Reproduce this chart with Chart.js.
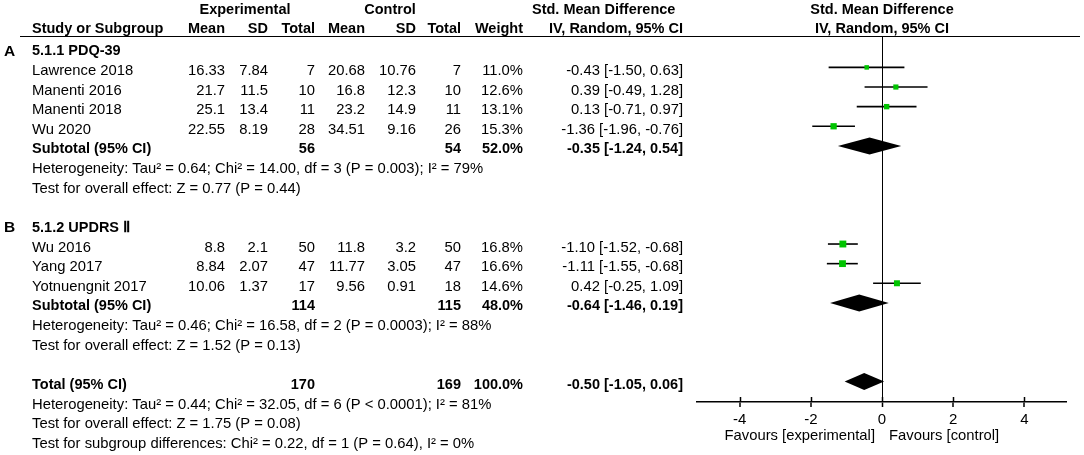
<!DOCTYPE html>
<html>
<head>
<meta charset="utf-8">
<title>Forest plot</title>
<script src="https://cdn.jsdelivr.net/npm/chart.js@4.4.1/dist/chart.umd.min.js"></script>
<style>
  html, body { margin: 0; padding: 0; background: #fff; }
  canvas { display: block; }
</style>
</head>
<body>
<canvas id="forest" width="1084" height="455"></canvas>
<script>
// ===== data =====
const studies = ["Lawrence 2018", "Manenti 2016", "Manenti 2018", "Wu 2020", "Wu 2016", "Yang 2017", "Yotnuengnit 2017"];
const studyRows = [1, 2, 3, 4, 10, 11, 12];
const expMean = [16.33, 21.7, 25.1, 22.55, 8.8, 8.84, 10.06];
const expSD = [7.84, 11.5, 13.4, 8.19, 2.1, 2.07, 1.37];
const expN = [7, 10, 11, 28, 50, 47, 17];
const ctrlMean = [20.68, 16.8, 23.2, 34.51, 11.8, 11.77, 9.56];
const ctrlSD = [10.76, 12.3, 14.9, 9.16, 3.2, 3.05, 0.91];
const ctrlN = [7, 10, 11, 26, 50, 47, 18];
const weights = [11.0, 12.6, 13.1, 15.3, 16.8, 16.6, 14.6];
const smd = [-0.43, 0.39, 0.13, -1.36, -1.10, -1.11, 0.42];
const ciLow = [-1.50, -0.49, -0.71, -1.96, -1.52, -1.55, -0.25];
const ciHigh = [0.63, 1.28, 0.97, -0.76, -0.68, -0.68, 1.09];

const groupLetters = ["A", "B"];
const groupTitles = ["5.1.1 PDQ-39", "5.1.2 UPDRS Ⅱ"];
const groupRows = [0, 9];

const sumLabels = ["Subtotal (95% CI)", "Subtotal (95% CI)", "Total (95% CI)"];
const sumRows = [5, 13, 17];
const sumExpN = [56, 114, 170];
const sumCtrlN = [54, 115, 169];
const sumWeights = [52.0, 48.0, 100.0];
const sumEst = [-0.35, -0.64, -0.50];
const sumLow = [-1.24, -1.46, -1.05];
const sumHigh = [0.54, 0.19, 0.06];

const noteRows = [6, 7, 14, 15, 18, 19, 20];
const noteTexts = [
    "Heterogeneity: Tau² = 0.64; Chi² = 14.00, df = 3 (P = 0.003); I² = 79%",
    "Test for overall effect: Z = 0.77 (P = 0.44)",
    "Heterogeneity: Tau² = 0.46; Chi² = 16.58, df = 2 (P = 0.0003); I² = 88%",
    "Test for overall effect: Z = 1.52 (P = 0.13)",
    "Heterogeneity: Tau² = 0.44; Chi² = 32.05, df = 6 (P < 0.0001); I² = 81%",
    "Test for overall effect: Z = 1.75 (P = 0.08)",
    "Test for subgroup differences: Chi² = 0.22, df = 1 (P = 0.64), I² = 0%"
];

const xTicks = [-4, -2, 0, 2, 4];
const favourLabels = ["Favours [experimental]", "Favours [control]"];

// ===== look =====
const FAMILY = '"Liberation Sans", Arial, sans-serif';
const NORMAL = "14.8px " + FAMILY;
const BOLD = "bold 14.5px " + FAMILY;
const GREEN = "#00c400";
const TEXT_DY = 3.5;   // text sits a little lower than the marks

const ci = (e, l, h) => `${e.toFixed(2)} [${l.toFixed(2)}, ${h.toFixed(2)}]`;

// column anchors (right aligned unless noted)
const col = { study: 32, letter: 4, expMean: 225, expSD: 268, expN: 315,
              ctrlMean: 365, ctrlSD: 416, ctrlN: 461, weight: 523, ci: 683 };

function txt(c, s, x, y, font, align) {
    c.font = font;
    c.textAlign = align || "right";
    c.fillText(s, x, y);
}

const tablePlugin = {
    id: "forestTable",
    afterDatasetsDraw(chart) {
        const c = chart.ctx;
        const ys = chart.scales.y;
        const xs = chart.scales.x;
        const area = chart.chartArea;
        const rowY = r => ys.getPixelForValue(r);
        const x0 = xs.getPixelForValue(0);

        // summary diamonds
        c.save();
        c.fillStyle = "#000";
        sumRows.forEach((r, i) => {
            const y = rowY(r), h = 8.5;
            c.beginPath();
            c.moveTo(xs.getPixelForValue(sumLow[i]), y);
            c.lineTo(xs.getPixelForValue(sumEst[i]), y - h);
            c.lineTo(xs.getPixelForValue(sumHigh[i]), y);
            c.lineTo(xs.getPixelForValue(sumEst[i]), y + h);
            c.closePath();
            c.fill();
        });
        c.restore();

        c.save();
        c.fillStyle = "#000";
        c.textBaseline = "middle";

        // header
        const h1 = rowY(-2.1) + TEXT_DY, h2 = rowY(-1.14) + TEXT_DY;
        txt(c, "Experimental", 245, h1, BOLD, "center");
        txt(c, "Control", 390, h1, BOLD, "center");
        txt(c, "Std. Mean Difference", 532, h1, BOLD, "left");
        txt(c, "Std. Mean Difference", x0, h1, BOLD, "center");
        txt(c, "Study or Subgroup", col.study, h2, BOLD, "left");
        txt(c, "Mean", col.expMean, h2, BOLD);
        txt(c, "SD", col.expSD, h2, BOLD);
        txt(c, "Total", col.expN, h2, BOLD);
        txt(c, "Mean", col.ctrlMean, h2, BOLD);
        txt(c, "SD", col.ctrlSD, h2, BOLD);
        txt(c, "Total", col.ctrlN, h2, BOLD);
        txt(c, "Weight", col.weight, h2, BOLD);
        txt(c, "IV, Random, 95% CI", col.ci, h2, BOLD);
        txt(c, "IV, Random, 95% CI", x0, h2, BOLD, "center");

        // header rule
        c.strokeStyle = "#000";
        c.lineWidth = 1;
        c.beginPath();
        c.moveTo(20, area.top + 0.5);
        c.lineTo(1080, area.top + 0.5);
        c.stroke();

        // subgroup titles
        groupRows.forEach((r, i) => {
            const y = rowY(r) + TEXT_DY;
            txt(c, groupLetters[i], col.letter, y, "bold 15.5px " + FAMILY, "left");
            txt(c, groupTitles[i], col.study, y, BOLD, "left");
        });

        // study rows
        studyRows.forEach((r, i) => {
            const y = rowY(r) + TEXT_DY;
            txt(c, studies[i], col.study, y, NORMAL, "left");
            txt(c, String(expMean[i]), col.expMean, y, NORMAL);
            txt(c, String(expSD[i]), col.expSD, y, NORMAL);
            txt(c, String(expN[i]), col.expN, y, NORMAL);
            txt(c, String(ctrlMean[i]), col.ctrlMean, y, NORMAL);
            txt(c, String(ctrlSD[i]), col.ctrlSD, y, NORMAL);
            txt(c, String(ctrlN[i]), col.ctrlN, y, NORMAL);
            txt(c, weights[i].toFixed(1) + "%", col.weight, y, NORMAL);
            txt(c, ci(smd[i], ciLow[i], ciHigh[i]), col.ci, y, NORMAL);
        });

        // subtotal / total rows
        sumRows.forEach((r, i) => {
            const y = rowY(r) + TEXT_DY;
            txt(c, sumLabels[i], col.study, y, BOLD, "left");
            txt(c, String(sumExpN[i]), col.expN, y, BOLD);
            txt(c, String(sumCtrlN[i]), col.ctrlN, y, BOLD);
            txt(c, sumWeights[i].toFixed(1) + "%", col.weight, y, BOLD);
            txt(c, ci(sumEst[i], sumLow[i], sumHigh[i]), col.ci, y, BOLD);
        });

        // heterogeneity notes
        noteRows.forEach((r, i) => {
            txt(c, noteTexts[i], col.study, rowY(r) + TEXT_DY, NORMAL, "left");
        });
        c.restore();
    },
    afterDraw(chart) {
        const c = chart.ctx;
        const xs = chart.scales.x;
        const area = chart.chartArea;
        const x0 = xs.getPixelForValue(0);
        c.save();
        // upper half of the tick marks
        c.strokeStyle = "#000";
        c.lineWidth = 1.5;
        xTicks.forEach(v => {
            const x = Math.round(xs.getPixelForValue(v)) + 0.5;
            c.beginPath();
            c.moveTo(x, area.bottom - 5);
            c.lineTo(x, area.bottom);
            c.stroke();
        });
        c.fillStyle = "#000";
        c.textBaseline = "middle";
        txt(c, favourLabels[0], x0 - 7, area.bottom + 34, NORMAL, "right");
        txt(c, favourLabels[1], x0 + 7, area.bottom + 34, NORMAL, "left");
        c.restore();
    }
};

// error bar lines, one small dataset per study
const ciSets = studies.map((s, i) => ({
    type: "line",
    label: s,
    data: [{ x: ciLow[i], y: studyRows[i] }, { x: ciHigh[i], y: studyRows[i] }],
    borderColor: "#000",
    borderWidth: 1.6,
    pointRadius: 0,
    showLine: true,
    order: 2
}));

const squareSet = {
    type: "scatter",
    label: "SMD",
    data: smd.map((v, i) => ({ x: v, y: studyRows[i] })),
    pointStyle: "rect",
    pointRadius: ctx => weights[ctx.dataIndex] * 0.29,
    backgroundColor: GREEN,
    borderColor: GREEN,
    borderWidth: 0,
    order: 0
};

const forestChart = new Chart(document.getElementById("forest"), {
    type: "scatter",
    data: { datasets: [squareSet, ...ciSets] },
    options: {
        responsive: false,
        animation: false,
        events: [],
        layout: { padding: { left: 697, right: 17, top: 36, bottom: 0 } },
        plugins: { legend: { display: false }, tooltip: { enabled: false } },
        scales: {
            x: {
                type: "linear",
                min: -5.2,
                max: 5.2,
                afterBuildTicks: axis => { axis.ticks = xTicks.map(v => ({ value: v })); },
                afterFit: axis => { axis.height = 53; },
                border: { display: true, color: "#000", width: 1.5 },
                grid: {
                    drawOnChartArea: true,
                    color: ctx => (ctx.tick && ctx.tick.value === 0 ? "#000" : "rgba(0,0,0,0)"),
                    lineWidth: ctx => (ctx.tick && ctx.tick.value === 0 ? 1 : 0),
                    tickColor: "#000",
                    tickWidth: 1.5,
                    tickLength: 5
                },
                ticks: {
                    color: "#000",
                    padding: 4,
                    font: { family: FAMILY, size: 15 },
                    callback: v => String(v)
                }
            },
            y: {
                type: "linear",
                display: false,
                reverse: true,
                min: -0.6,
                max: 18.05
            }
        }
    },
    plugins: [tablePlugin]
});
</script>
</body>
</html>
